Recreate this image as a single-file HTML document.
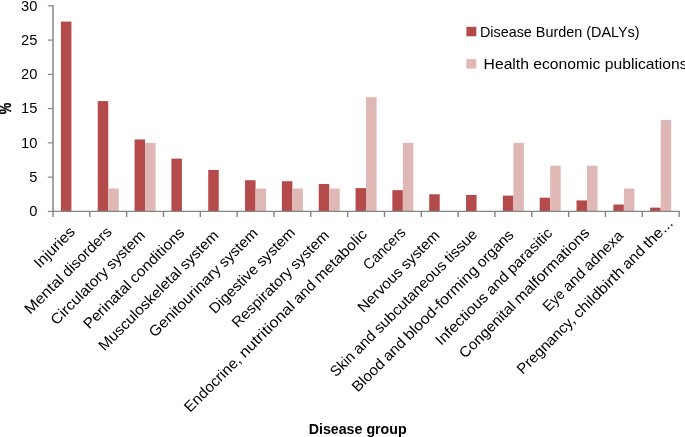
<!DOCTYPE html>
<html lang="en"><head><meta charset="utf-8"><title>Disease burden vs health economic publications</title>
<style>html,body{margin:0;padding:0;background:#fff}body{width:685px;height:437px;overflow:hidden}svg{display:block;will-change:transform}text{font-family:'Liberation Sans', Arial, sans-serif;font-size:14.8px;fill:#000}</style></head><body>
<svg width="685" height="437" viewBox="0 0 685 437">
<rect width="685" height="437" fill="#fff"/>
<g shape-rendering="auto">
<rect x="60.91" y="21.57" width="10.50" height="189.83" fill="#B44A4A"/>
<rect x="97.75" y="101.07" width="10.50" height="110.33" fill="#B44A4A"/>
<rect x="108.25" y="188.56" width="10.50" height="22.84" fill="#DFB8B6"/>
<rect x="134.57" y="139.44" width="10.50" height="71.96" fill="#B44A4A"/>
<rect x="145.07" y="142.87" width="10.50" height="68.53" fill="#DFB8B6"/>
<rect x="171.41" y="158.63" width="10.50" height="52.77" fill="#B44A4A"/>
<rect x="208.23" y="169.94" width="10.50" height="41.46" fill="#B44A4A"/>
<rect x="245.06" y="180.22" width="10.50" height="31.18" fill="#B44A4A"/>
<rect x="255.56" y="188.56" width="10.50" height="22.84" fill="#DFB8B6"/>
<rect x="281.90" y="181.25" width="10.50" height="30.15" fill="#B44A4A"/>
<rect x="292.40" y="188.56" width="10.50" height="22.84" fill="#DFB8B6"/>
<rect x="318.73" y="183.99" width="10.50" height="27.41" fill="#B44A4A"/>
<rect x="329.23" y="188.56" width="10.50" height="22.84" fill="#DFB8B6"/>
<rect x="355.56" y="188.10" width="10.50" height="23.30" fill="#B44A4A"/>
<rect x="366.06" y="97.18" width="10.50" height="114.22" fill="#DFB8B6"/>
<rect x="392.38" y="190.16" width="10.50" height="21.24" fill="#B44A4A"/>
<rect x="402.88" y="142.87" width="10.50" height="68.53" fill="#DFB8B6"/>
<rect x="429.21" y="194.27" width="10.50" height="17.13" fill="#B44A4A"/>
<rect x="466.05" y="194.95" width="10.50" height="16.45" fill="#B44A4A"/>
<rect x="502.88" y="195.64" width="10.50" height="15.76" fill="#B44A4A"/>
<rect x="513.38" y="142.87" width="10.50" height="68.53" fill="#DFB8B6"/>
<rect x="539.70" y="197.69" width="10.50" height="13.71" fill="#B44A4A"/>
<rect x="550.20" y="165.71" width="10.50" height="45.69" fill="#DFB8B6"/>
<rect x="576.53" y="200.44" width="10.50" height="10.96" fill="#B44A4A"/>
<rect x="587.03" y="165.71" width="10.50" height="45.69" fill="#DFB8B6"/>
<rect x="613.36" y="204.55" width="10.50" height="6.85" fill="#B44A4A"/>
<rect x="623.86" y="188.56" width="10.50" height="22.84" fill="#DFB8B6"/>
<rect x="650.19" y="207.63" width="10.50" height="3.77" fill="#B44A4A"/>
<rect x="660.69" y="120.03" width="10.50" height="91.37" fill="#DFB8B6"/>
</g>
<g stroke="#858585" stroke-width="1.2" fill="none">
<path d="M53.00 5.21 V212.00" stroke-width="1.5"/>
<path d="M52.40 211.40 H679.71"/>
<path d="M47.80 211.40 H53.00"/>
<path d="M47.80 177.13 H53.00"/>
<path d="M47.80 142.87 H53.00"/>
<path d="M47.80 108.61 H53.00"/>
<path d="M47.80 74.34 H53.00"/>
<path d="M47.80 40.08 H53.00"/>
<path d="M47.80 5.81 H53.00"/>
<path d="M53.00 211.40 V217.00" stroke-width="1.4"/>
<path d="M89.83 211.40 V217.00" stroke-width="1.4"/>
<path d="M126.66 211.40 V217.00" stroke-width="1.4"/>
<path d="M163.49 211.40 V217.00" stroke-width="1.4"/>
<path d="M200.32 211.40 V217.00" stroke-width="1.4"/>
<path d="M237.15 211.40 V217.00" stroke-width="1.4"/>
<path d="M273.98 211.40 V217.00" stroke-width="1.4"/>
<path d="M310.81 211.40 V217.00" stroke-width="1.4"/>
<path d="M347.64 211.40 V217.00" stroke-width="1.4"/>
<path d="M384.47 211.40 V217.00" stroke-width="1.4"/>
<path d="M421.30 211.40 V217.00" stroke-width="1.4"/>
<path d="M458.13 211.40 V217.00" stroke-width="1.4"/>
<path d="M494.96 211.40 V217.00" stroke-width="1.4"/>
<path d="M531.79 211.40 V217.00" stroke-width="1.4"/>
<path d="M568.62 211.40 V217.00" stroke-width="1.4"/>
<path d="M605.45 211.40 V217.00" stroke-width="1.4"/>
<path d="M642.28 211.40 V217.00" stroke-width="1.4"/>
<path d="M679.11 211.40 V217.00" stroke-width="1.4"/>
</g>
<text x="37.4" y="216.15" text-anchor="end" textLength="8.16" lengthAdjust="spacingAndGlyphs">0</text>
<text x="37.4" y="181.88" text-anchor="end" textLength="8.16" lengthAdjust="spacingAndGlyphs">5</text>
<text x="37.4" y="147.62" text-anchor="end" textLength="16.32" lengthAdjust="spacingAndGlyphs">10</text>
<text x="37.4" y="113.36" text-anchor="end" textLength="16.32" lengthAdjust="spacingAndGlyphs">15</text>
<text x="37.4" y="79.09" text-anchor="end" textLength="16.32" lengthAdjust="spacingAndGlyphs">20</text>
<text x="37.4" y="44.83" text-anchor="end" textLength="16.32" lengthAdjust="spacingAndGlyphs">25</text>
<text x="37.4" y="10.56" text-anchor="end" textLength="16.32" lengthAdjust="spacingAndGlyphs">30</text>
<text transform="translate(11 108.4) rotate(-90) scale(0.875 1.08)" text-anchor="middle" font-weight="bold" stroke="#000" stroke-width="0.35">%</text>
<text transform="translate(75.81 232.70) rotate(-45)"><tspan x="-51.15" textLength="51.15" lengthAdjust="spacingAndGlyphs">Injuries</tspan></text>
<text transform="translate(112.65 232.70) rotate(-45)"><tspan x="-116.46" textLength="49.08" lengthAdjust="spacingAndGlyphs">Mental</tspan> <tspan x="-63.58" textLength="63.58" lengthAdjust="spacingAndGlyphs">disorders</tspan></text>
<text transform="translate(145.88 236.30) rotate(-45)"><tspan x="-126.40" textLength="74.45" lengthAdjust="spacingAndGlyphs">Circulatory</tspan> <tspan x="-48.15" textLength="48.15" lengthAdjust="spacingAndGlyphs">system</tspan></text>
<text transform="translate(185.46 233.55) rotate(-45)"><tspan x="-136.16" textLength="61.15" lengthAdjust="spacingAndGlyphs">Perinatal</tspan> <tspan x="-71.21" textLength="71.21" lengthAdjust="spacingAndGlyphs">conditions</tspan></text>
<text transform="translate(219.44 236.40) rotate(-45)"><tspan x="-162.67" textLength="110.72" lengthAdjust="spacingAndGlyphs">Musculoskeletal</tspan> <tspan x="-48.15" textLength="48.15" lengthAdjust="spacingAndGlyphs">system</tspan></text>
<text transform="translate(258.66 234.00) rotate(-45)"><tspan x="-146.95" textLength="95.00" lengthAdjust="spacingAndGlyphs">Genitourinary</tspan> <tspan x="-48.15" textLength="48.15" lengthAdjust="spacingAndGlyphs">system</tspan></text>
<text transform="translate(295.94 233.55) rotate(-45)"><tspan x="-114.41" textLength="62.46" lengthAdjust="spacingAndGlyphs">Digestive</tspan> <tspan x="-48.15" textLength="48.15" lengthAdjust="spacingAndGlyphs">system</tspan></text>
<text transform="translate(330.02 236.30) rotate(-45)"><tspan x="-130.54" textLength="78.59" lengthAdjust="spacingAndGlyphs">Respiratory</tspan> <tspan x="-48.15" textLength="48.15" lengthAdjust="spacingAndGlyphs">system</tspan></text>
<text transform="translate(367.95 235.20) rotate(-45)"><tspan x="-251.52" textLength="73.35" lengthAdjust="spacingAndGlyphs">Endocrine,</tspan> <tspan x="-174.36" textLength="72.50" lengthAdjust="spacingAndGlyphs">nutritional</tspan> <tspan x="-98.04" textLength="25.85" lengthAdjust="spacingAndGlyphs">and</tspan> <tspan x="-68.36" textLength="68.36" lengthAdjust="spacingAndGlyphs">metabolic</tspan></text>
<text transform="translate(406.53 233.45) rotate(-45)"><tspan x="-52.92" textLength="52.92" lengthAdjust="spacingAndGlyphs">Cancers</tspan></text>
<text transform="translate(440.51 236.30) rotate(-45)"><tspan x="-108.86" textLength="56.91" lengthAdjust="spacingAndGlyphs">Nervous</tspan> <tspan x="-48.15" textLength="48.15" lengthAdjust="spacingAndGlyphs">system</tspan></text>
<text transform="translate(478.34 235.30) rotate(-45)"><tspan x="-201.21" textLength="28.18" lengthAdjust="spacingAndGlyphs">Skin</tspan> <tspan x="-169.22" textLength="25.83" lengthAdjust="spacingAndGlyphs">and</tspan> <tspan x="-139.57" textLength="95.75" lengthAdjust="spacingAndGlyphs">subcutaneous</tspan> <tspan x="-40.01" textLength="40.01" lengthAdjust="spacingAndGlyphs">tissue</tspan></text>
<text transform="translate(514.67 235.80) rotate(-45)"><tspan x="-222.03" textLength="39.74" lengthAdjust="spacingAndGlyphs">Blood</tspan> <tspan x="-178.48" textLength="25.83" lengthAdjust="spacingAndGlyphs">and</tspan> <tspan x="-148.83" textLength="98.72" lengthAdjust="spacingAndGlyphs">blood-forming</tspan> <tspan x="-46.30" textLength="46.30" lengthAdjust="spacingAndGlyphs">organs</tspan></text>
<text transform="translate(553.35 233.95) rotate(-45)"><tspan x="-158.48" textLength="67.39" lengthAdjust="spacingAndGlyphs">Infectious</tspan> <tspan x="-87.29" textLength="25.70" lengthAdjust="spacingAndGlyphs">and</tspan> <tspan x="-57.79" textLength="57.79" lengthAdjust="spacingAndGlyphs">parasitic</tspan></text>
<text transform="translate(590.43 233.70) rotate(-45)"><tspan x="-177.29" textLength="73.12" lengthAdjust="spacingAndGlyphs">Congenital</tspan> <tspan x="-100.37" textLength="100.37" lengthAdjust="spacingAndGlyphs">malformations</tspan></text>
<text transform="translate(624.26 236.70) rotate(-45)"><tspan x="-106.85" textLength="24.17" lengthAdjust="spacingAndGlyphs">Eye</tspan> <tspan x="-78.88" textLength="25.70" lengthAdjust="spacingAndGlyphs">and</tspan> <tspan x="-49.38" textLength="49.38" lengthAdjust="spacingAndGlyphs">adnexa</tspan></text>
<text transform="translate(673.79 224.00) rotate(-45)"><tspan x="-213.49" textLength="75.40" lengthAdjust="spacingAndGlyphs">Pregnancy,</tspan> <tspan x="-134.29" textLength="65.46" lengthAdjust="spacingAndGlyphs">childbirth</tspan> <tspan x="-65.03" textLength="25.70" lengthAdjust="spacingAndGlyphs">and</tspan> <tspan x="-35.54" textLength="35.54" lengthAdjust="spacingAndGlyphs">the...</tspan></text>
<text x="308.7" y="433.8" font-weight="bold" font-size="15.5" textLength="97.96" lengthAdjust="spacingAndGlyphs">Disease group</text>
<rect x="466.4" y="26.8" width="9.9" height="9.5" fill="#B44A4A"/>
<text x="479.9" y="36.75" textLength="159.67" lengthAdjust="spacingAndGlyphs">Disease Burden (DALYs)</text>
<rect x="466.4" y="59.1" width="9.9" height="9.4" fill="#DFB8B6"/>
<text x="483.6" y="68.8" textLength="204.04" lengthAdjust="spacingAndGlyphs">Health economic publications</text>
</svg></body></html>
